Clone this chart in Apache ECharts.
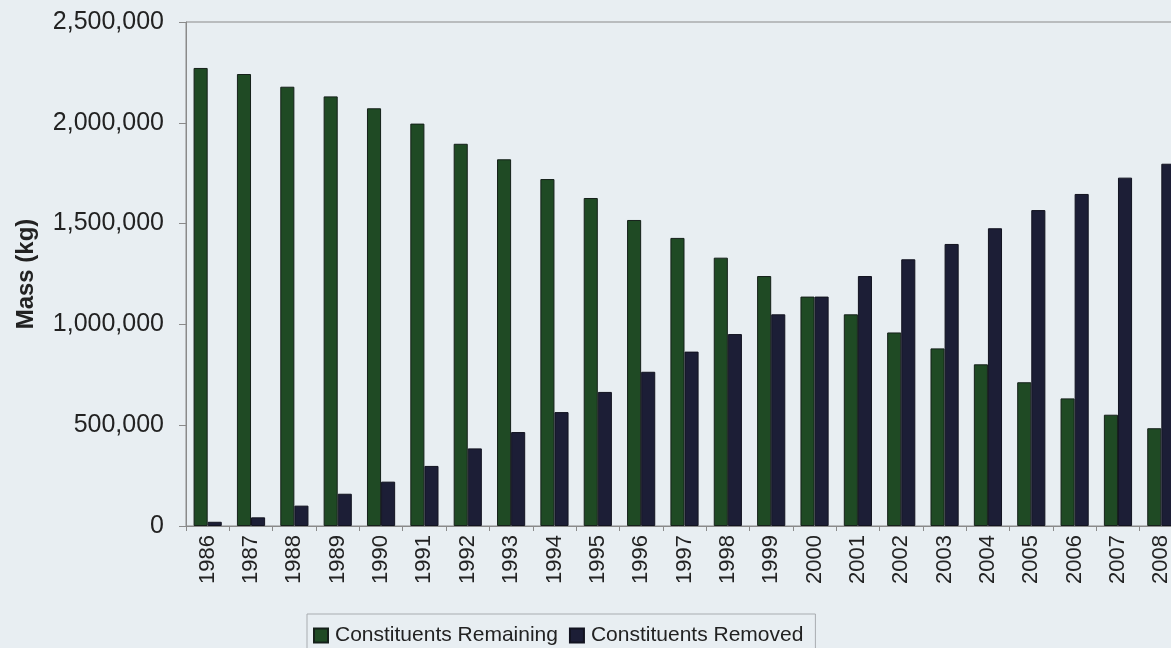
<!DOCTYPE html>
<html>
<head>
<meta charset="utf-8">
<title>Constituent Mass</title>
<script src="https://cdn.jsdelivr.net/npm/echarts@6/dist/echarts.min.js"></script>
<style>
  html, body { margin: 0; padding: 0; background: #e8eef2; }
  #chart { width: 1171px; height: 648px; }
</style>
</head>
<body>
<div id="chart"></div>
<script>
// Yearly mass balance of constituents (kg)
const years = ['1986','1987','1988','1989','1990','1991','1992','1993','1994','1995','1996','1997',
               '1998','1999','2000','2001','2002','2003','2004','2005','2006','2007','2008'];

const remaining = [2272000, 2242000, 2179000, 2131000, 2072000, 1996000, 1896000, 1819000, 1721000,
                   1627000, 1518000, 1429000, 1331000, 1240000, 1138000, 1050000, 960000, 881000,
                   802000, 713000, 633000, 552000, 485000];

const removed = [21000, 43000, 101000, 160000, 220000, 298000, 385000, 466000, 565000, 665000,
                 765000, 865000, 952000, 1050000, 1138000, 1240000, 1323000, 1399000, 1477000,
                 1567000, 1647000, 1728000, 1797000];

const yTicks = { min: 0, max: 2500000, step: 500000 };

const textColor = '#222222';
const fontFamily = '"Liberation Sans", Arial, Helvetica, sans-serif';

const chart = echarts.init(document.getElementById('chart'));
chart.setOption({
  backgroundColor: '#e8eef2',
  animation: false,
  textStyle: { fontFamily: fontFamily, color: textColor },
  // plot area runs past the right edge of the page, so the last bar is clipped
  grid: {
    left: 186, top: 22, bottom: 122, right: -12,
    outerBoundsMode: 'none',
    containLabel: false,
    show: true,
    borderColor: '#8a8a8a',
    borderWidth: 1,
    backgroundColor: 'transparent'
  },
  legend: {
    bottom: -20,
    left: 307,
    padding: [11, 12, 22, 6],
    itemWidth: 14,
    itemHeight: 14,
    itemGap: 11,
    icon: 'rect',
    borderColor: '#a8acb0',
    borderWidth: 1,
    textStyle: { fontSize: 21, color: textColor, fontFamily: fontFamily, padding: [0, 0, 0, 2] },
    data: ['Constituents Remaining', 'Constituents Removed']
  },
  xAxis: {
    type: 'category',
    data: years,
    axisLine: { lineStyle: { color: '#8a8a8a', width: 1 } },
    axisTick: { show: true, length: 5, alignWithLabel: false, lineStyle: { color: '#8a8a8a' } },
    axisLabel: { rotate: 90, margin: 9, fontSize: 22, color: textColor, interval: 0 }
  },
  yAxis: {
    type: 'value',
    min: yTicks.min,
    max: yTicks.max,
    interval: yTicks.step,
    name: 'Mass (kg)',
    nameLocation: 'middle',
    nameGap: 148,
    nameTextStyle: { fontSize: 24, fontWeight: 'bold', color: textColor },
    axisLine: { show: true, lineStyle: { color: '#8a8a8a', width: 1 } },
    axisTick: { show: true, length: 7, lineStyle: { color: '#8a8a8a' } },
    splitLine: { show: false },
    axisLabel: {
      margin: 22,
      fontSize: 25,
      color: textColor,
      formatter: v => v.toLocaleString('en-US')
    }
  },
  series: [
    {
      name: 'Constituents Remaining',
      type: 'bar',
      data: remaining,
      barGap: '0%',
      barCategoryGap: '35%',
      itemStyle: { color: '#1f4a24', borderColor: '#15201a', borderWidth: 1 }
    },
    {
      name: 'Constituents Removed',
      type: 'bar',
      data: removed,
      barGap: '0%',
      barCategoryGap: '35%',
      itemStyle: { color: '#1c1e36', borderColor: '#121320', borderWidth: 1 }
    }
  ]
});
</script>
</body>
</html>
